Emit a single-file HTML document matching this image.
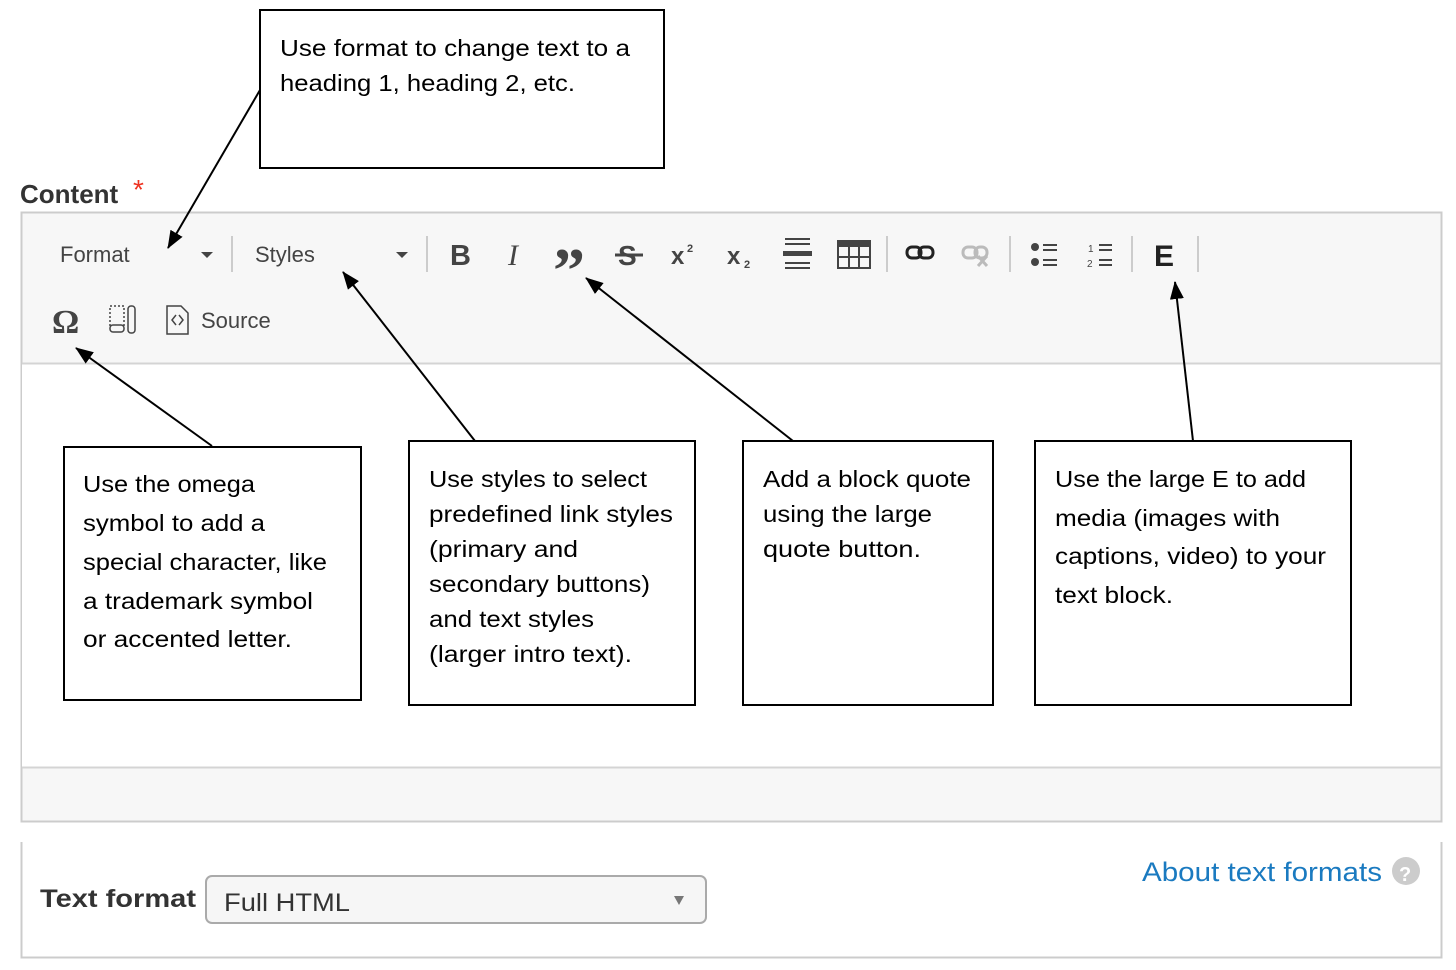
<!DOCTYPE html>
<html><head><meta charset="utf-8"><style>
html,body{margin:0;padding:0;background:#fff;}
svg{display:block}
</style></head><body>
<svg width="1456" height="970" viewBox="0 0 1456 970" xmlns="http://www.w3.org/2000/svg">
<defs>
<marker id="a" markerWidth="18" markerHeight="14" refX="17" refY="7" orient="auto" markerUnits="userSpaceOnUse"><path d="M0,0 L18,7 L0,14 z" fill="#000"/></marker></defs>
<rect width="1456" height="970" fill="#fff"/>
<text x="20" y="203" font-family="Liberation Sans, sans-serif" font-weight="bold" font-size="26" fill="#333">Content</text>
<text x="133" y="199" font-family="Liberation Sans, sans-serif" font-size="28" fill="#e32">*</text>
<rect x="21.5" y="212.5" width="1420" height="609" fill="#f7f7f7" stroke="#ccc" stroke-width="2"/>
<rect x="22" y="364" width="1418" height="403" fill="#fff"/>
<line x1="22" y1="363.5" x2="1441" y2="363.5" stroke="#d4d4d4" stroke-width="2"/>
<line x1="22" y1="767.5" x2="1441" y2="767.5" stroke="#d4d4d4" stroke-width="2"/>
<g font-family="Liberation Sans, sans-serif" fill="#444">
<text x="60" y="262" font-size="22">Format</text>
<path d="M201,252 h12 l-6,6 z"/>
<line x1="232" y1="236" x2="232" y2="272" stroke="#ccc" stroke-width="2"/>
<text x="255" y="262" font-size="22">Styles</text>
<path d="M396,252 h12 l-6,6 z"/>
<line x1="427" y1="236" x2="427" y2="272" stroke="#ccc" stroke-width="2"/>
<text x="450" y="265" font-size="29" font-weight="bold">B</text>
<text x="508" y="265" font-size="30" font-style="italic" font-family="Liberation Serif, serif">I</text>
<text x="553" y="292" font-size="64" font-weight="bold" font-family="Liberation Serif, serif">”</text>
<text x="618" y="265" font-size="28" font-weight="bold">S</text>
<line x1="615" y1="255" x2="643" y2="255" stroke="#444" stroke-width="3"/>
<text x="671" y="264" font-size="24" font-weight="bold">x</text><text x="687" y="252" font-size="11" font-weight="bold">2</text>
<text x="727" y="264" font-size="24" font-weight="bold">x</text><text x="744" y="268" font-size="11" font-weight="bold">2</text>
<g stroke="#444" stroke-width="2"><line x1="785" y1="239" x2="810" y2="239"/><line x1="785" y1="244" x2="810" y2="244"/><line x1="785" y1="263" x2="810" y2="263"/><line x1="785" y1="268" x2="810" y2="268"/></g>
<rect x="783" y="251" width="29" height="5"/>
<rect x="838" y="241" width="32" height="27" fill="none" stroke="#444" stroke-width="2"/>
<rect x="838" y="241" width="32" height="6"/>
<g stroke="#444" stroke-width="2"><line x1="849" y1="247" x2="849" y2="268"/><line x1="859" y1="247" x2="859" y2="268"/><line x1="838" y1="257" x2="870" y2="257"/></g>
<line x1="887" y1="236" x2="887" y2="272" stroke="#ccc" stroke-width="2"/>
<g fill="none" stroke="#222" stroke-width="3"><rect x="907" y="247" width="14" height="11" rx="5"/><rect x="919" y="247" width="14" height="11" rx="5"/></g>
<g fill="none" stroke="#bbb" stroke-width="3"><rect x="963" y="247" width="14" height="11" rx="5"/><rect x="975" y="247" width="12" height="11" rx="5"/><path d="M978,256 l9,10 M987,256 l-9,10"/></g>
<line x1="1010" y1="236" x2="1010" y2="272" stroke="#ccc" stroke-width="2"/>
<circle cx="1035" cy="247" r="4"/><circle cx="1035" cy="262" r="4"/>
<g stroke="#444" stroke-width="2"><line x1="1043" y1="245" x2="1057" y2="245"/><line x1="1043" y1="250" x2="1057" y2="250"/><line x1="1043" y1="260" x2="1057" y2="260"/><line x1="1043" y1="265" x2="1057" y2="265"/>
<line x1="1099" y1="245" x2="1112" y2="245"/><line x1="1099" y1="250" x2="1112" y2="250"/><line x1="1099" y1="260" x2="1112" y2="260"/><line x1="1099" y1="265" x2="1112" y2="265"/></g>
<text x="1088" y="252" font-size="10">1</text><text x="1087" y="267" font-size="10">2</text>
<line x1="1132" y1="236" x2="1132" y2="272" stroke="#ccc" stroke-width="2"/>
<text x="1154" y="266" font-size="30" font-weight="bold" fill="#222">E</text>
<line x1="1198" y1="236" x2="1198" y2="272" stroke="#ccc" stroke-width="2"/>
<text x="52" y="333" font-size="34" font-weight="bold" font-family="Liberation Serif, serif">Ω</text>
<rect x="110" y="306" width="14" height="22" fill="none" stroke="#444" stroke-width="1.5" stroke-dasharray="2,2"/>
<rect x="110" y="325" width="14" height="7" rx="3" fill="#f7f7f7" stroke="#444" stroke-width="1.5"/>
<rect x="128" y="306" width="7" height="27" rx="3" fill="none" stroke="#444" stroke-width="1.5"/>
<path d="M167,306 h14 l7,7 v21 h-21 z" fill="none" stroke="#444" stroke-width="1.5"/>
<path d="M176,315 l-4,5 4,5 M179,315 l4,5 -4,5" fill="none" stroke="#444" stroke-width="1.5"/>
<text x="201" y="328" font-size="22">Source</text>
</g>
<path d="M21.5,842 V957.5 H1441.5 V842" fill="none" stroke="#ccc" stroke-width="2"/>
<text x="40" y="907" font-family="Liberation Sans, sans-serif" font-weight="bold" font-size="25" fill="#333" textLength="156" lengthAdjust="spacingAndGlyphs">Text format</text>
<rect x="206" y="876" width="500" height="47" rx="6" fill="#f6f6f6" stroke="#aaa" stroke-width="2"/>
<text x="224" y="911" font-family="Liberation Sans, sans-serif" font-size="25" fill="#333" textLength="126" lengthAdjust="spacingAndGlyphs">Full HTML</text>
<path d="M674,896 h10 l-5,9 z" fill="#777"/>
<text x="1142" y="881" font-family="Liberation Sans, sans-serif" font-size="27" fill="#1a7ac0" textLength="240" lengthAdjust="spacingAndGlyphs">About text formats</text>
<circle cx="1406" cy="871" r="14" fill="#ccc"/>
<text x="1399" y="881" font-family="Liberation Sans, sans-serif" font-weight="bold" font-size="20" fill="#fff">?</text>
<g fill="#fff" stroke="#000" stroke-width="2">
<rect x="260" y="10" width="404" height="158"/>
<rect x="64" y="447" width="297" height="253"/>
<rect x="409" y="441" width="286" height="264"/>
<rect x="743" y="441" width="250" height="264"/>
<rect x="1035" y="441" width="316" height="264"/>
</g>
<g stroke="#000" stroke-width="2" marker-end="url(#a)">
<line x1="260" y1="90" x2="168" y2="248"/>
<line x1="212" y1="446" x2="76" y2="348"/>
<line x1="475" y1="441" x2="343" y2="272"/>
<line x1="793" y1="441" x2="586" y2="278"/>
<line x1="1193" y1="441" x2="1175" y2="282"/>
</g>
<g font-family="Liberation Sans, sans-serif" font-size="23" fill="#000">
<text x="280" y="56" textLength="350" lengthAdjust="spacingAndGlyphs">Use format to change text to a</text>
<text x="280" y="91" textLength="295" lengthAdjust="spacingAndGlyphs">heading 1, heading 2, etc.</text>
<text x="83" y="492" textLength="172" lengthAdjust="spacingAndGlyphs">Use the omega</text>
<text x="83" y="531" textLength="182" lengthAdjust="spacingAndGlyphs">symbol to add a</text>
<text x="83" y="570" textLength="244" lengthAdjust="spacingAndGlyphs">special character, like</text>
<text x="83" y="609" textLength="230" lengthAdjust="spacingAndGlyphs">a trademark symbol</text>
<text x="83" y="647" textLength="209" lengthAdjust="spacingAndGlyphs">or accented letter.</text>
<text x="429" y="487" textLength="218" lengthAdjust="spacingAndGlyphs">Use styles to select</text>
<text x="429" y="522" textLength="244" lengthAdjust="spacingAndGlyphs">predefined link styles</text>
<text x="429" y="557" textLength="149" lengthAdjust="spacingAndGlyphs">(primary and</text>
<text x="429" y="592" textLength="221" lengthAdjust="spacingAndGlyphs">secondary buttons)</text>
<text x="429" y="627" textLength="165" lengthAdjust="spacingAndGlyphs">and text styles</text>
<text x="429" y="662" textLength="203" lengthAdjust="spacingAndGlyphs">(larger intro text).</text>
<text x="763" y="487" textLength="208" lengthAdjust="spacingAndGlyphs">Add a block quote</text>
<text x="763" y="522" textLength="169" lengthAdjust="spacingAndGlyphs">using the large</text>
<text x="763" y="557" textLength="158" lengthAdjust="spacingAndGlyphs">quote button.</text>
<text x="1055" y="487" textLength="251" lengthAdjust="spacingAndGlyphs">Use the large E to add</text>
<text x="1055" y="526" textLength="225" lengthAdjust="spacingAndGlyphs">media (images with</text>
<text x="1055" y="564" textLength="271" lengthAdjust="spacingAndGlyphs">captions, video) to your</text>
<text x="1055" y="603" textLength="118" lengthAdjust="spacingAndGlyphs">text block.</text>
</g>
</svg>
</body></html>
